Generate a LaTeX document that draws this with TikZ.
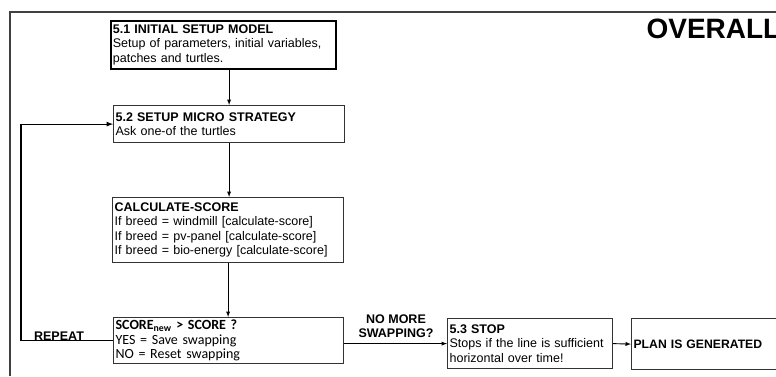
\documentclass[tikz,border=0pt]{standalone}
\usepackage{fontspec}
\setmainfont{Liberation Sans}
\newfontfamily\calibrifont{Carlito}
\usepackage{tikz}
\usetikzlibrary{positioning}
\tikzset{>=latex}

\begin{document}
\begin{tikzpicture}[x=1pt,y=-1pt,
    box/.style={draw=black!80, line width=1.2pt, anchor=north west, align=left,
        inner xsep=2pt, inner ysep=0pt, font=\fontsize{12.5}{14.5}\selectfont},
    lbl/.style={font=\bfseries\fontsize{12.5}{14}\selectfont, align=center},
    conn/.style={->, line width=0.9pt}]
            \tikzset{>=latex}
            \useasboundingbox (0,0) rectangle (776,376);
            \draw[black!75, line width=1.3pt] (10,376) -- (10,12) -- (776,12);
            \node[font=\bfseries\fontsize{28}{28}\selectfont, anchor=base west] (title) at (643,38) {OVERALL};
            \node[box, line width=1.8pt, draw=black, text width=221pt, minimum height=48pt] (setup) at (110,20)
                {\textbf{5.1 INITIAL SETUP MODEL}\\Setup of parameters, initial variables,\\patches and turtles.};
            \node[box, text width=227pt, minimum height=37pt] (micro) at (113,105)
                {\textbf{5.2 SETUP MICRO STRATEGY}\\Ask one-of the turtles};
            \node[box, text width=227pt, minimum height=65pt] (calc) at (112,197)
                {\textbf{CALCULATE-SCORE}\\If breed = windmill [calculate-score]\\If breed = pv-panel [calculate-score]\\If breed = bio-energy [calculate-score]};
            \node[box, text width=226pt, minimum height=46pt, font=\calibrifont\fontsize{14}{14.5}\selectfont] (score) at (113,317)
                {\textbf{SCORE\textsubscript{new} > SCORE ?}\\YES = Save swapping\\NO = Reset swapping};
            \node[box, text width=161pt, minimum height=50pt] (stop) at (447,318)
                {\textbf{5.3 STOP}\\Stops if the line is sufficient\\horizontal over time!};
            \node[box, text width=156pt, minimum height=51pt, font=\bfseries\fontsize{12.2}{14}\selectfont] (plan) at (631,318)
                {PLAN IS GENERATED};
            \draw[conn] (micro.north |- setup.south) -- (micro.north);
            \draw[conn] (micro.south) -- (micro.south |- calc.north);
            \draw[conn] (calc.south) -- (calc.south |- score.north);
            \draw[conn, line width=1.2pt] (score.west) -- ++(-92,0) coordinate (loop) |- (micro.west);
            \node[lbl, anchor=base] (repeat) at (59,340) {REPEAT};
            \draw[conn] (score.east |- stop.west) -- (stop.west);
            \node[lbl, anchor=south] (nomore) at (396,341) {NO MORE\\SWAPPING?};
            \draw[conn] (stop.east) -- (plan.west);
        \end{tikzpicture}
\end{document}
